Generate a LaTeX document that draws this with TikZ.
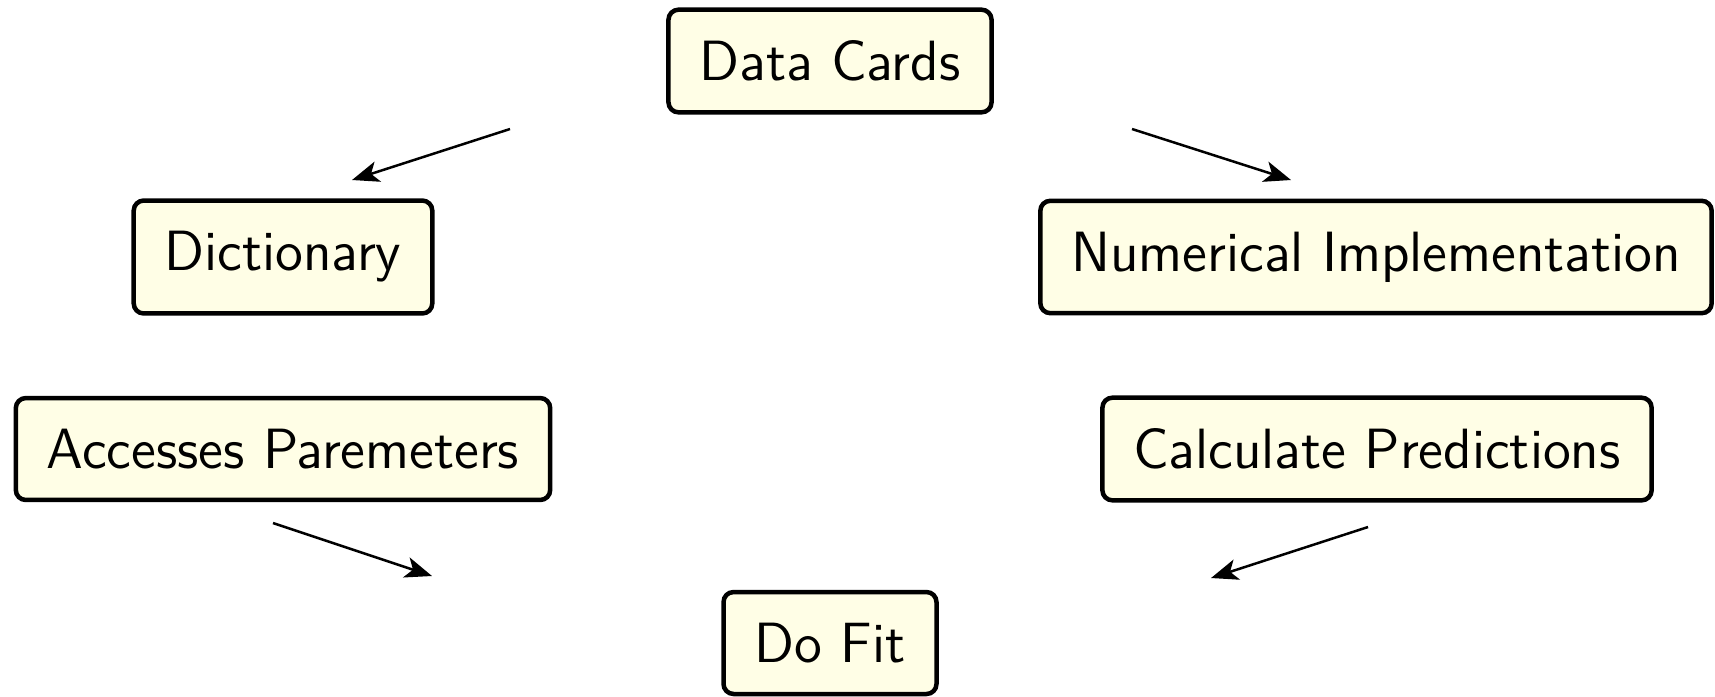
\documentclass[tikz,border=0pt]{standalone}
\usetikzlibrary{arrows.meta}
\begin{document}
\begin{tikzpicture}[x=0.2pt,y=-0.2pt,
  box/.style={draw=black, line width=0.9pt, rounded corners=2pt, fill=yellow!10,
    inner sep=6.2pt, font=\sffamily\fontsize{11.35}{13}\selectfont},
  conn/.style={line width=0.5pt, -{Stealth[length=5.4pt,width=4.2pt,inset=1.4pt]}}]
\useasboundingbox (0,0) rectangle (1715,696);
\node[box] (dc) at (830,61) {Data Cards};
\node[box] (dict) at (283,257) {Dictionary};
\node[box] (num) at (1376,257) {Numerical Implementation};
\node[box] (acc) at (283,449) {Accesses Paremeters};
\node[box] (calc) at (1377,449) {Calculate Predictions};
\node[box] (fit) at (830,643) {Do Fit};
\coordinate (a1s) at (510,129); \coordinate (a1e) at (352,180);
\coordinate (a2s) at (1132,129); \coordinate (a2e) at (1291,180);
\coordinate (a3s) at (273,523); \coordinate (a3e) at (432,576);
\coordinate (a4s) at (1368,527); \coordinate (a4e) at (1211,578);
\draw[conn] (a1s) -- (a1e);
\draw[conn] (a2s) -- (a2e);
\draw[conn] (a3s) -- (a3e);
\draw[conn] (a4s) -- (a4e);
\end{tikzpicture}
\end{document}
